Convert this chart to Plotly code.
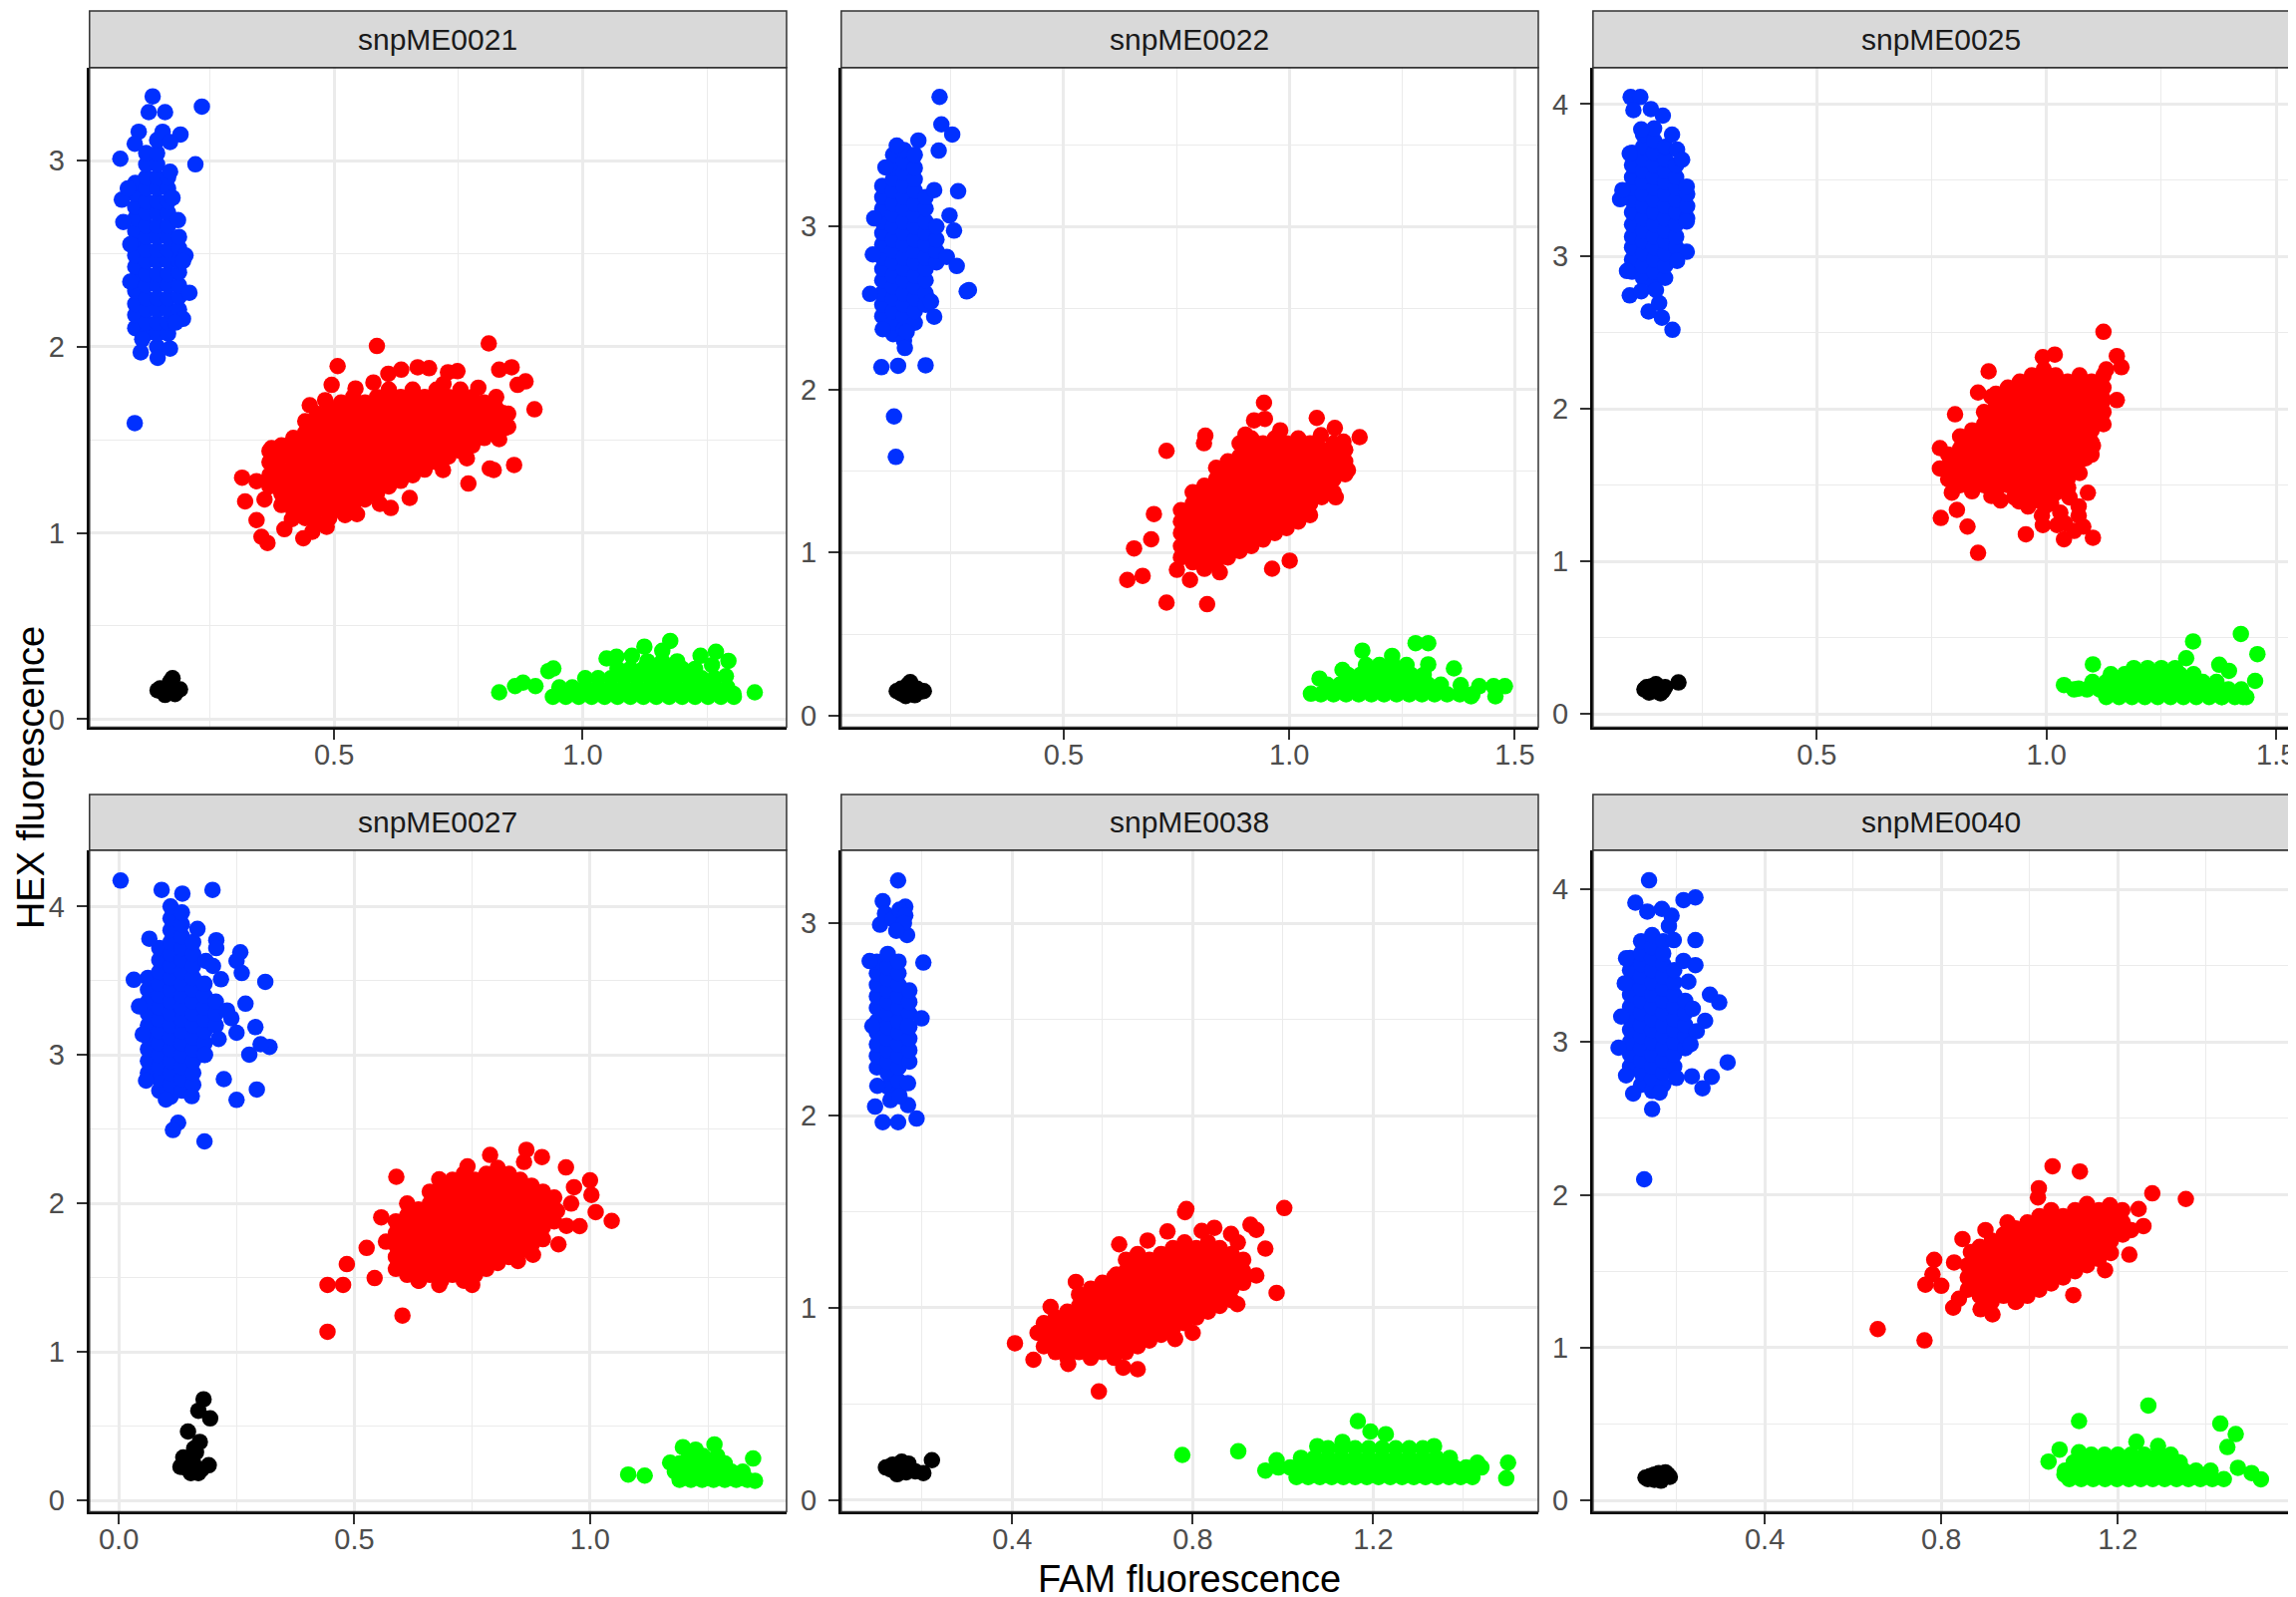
import plotly.graph_objects as go

# ---------------- data ----------------
panel_names = ["snpME0021", "snpME0022", "snpME0025", "snpME0027", "snpME0038", "snpME0040"]
x_ranges = [[0.008, 1.41], [0.007, 1.552], [0.013, 1.53], [-0.062, 1.417], [0.021, 1.566], [0.011, 1.59]]
y_ranges = [[-0.043, 3.50], [-0.071, 3.976], [-0.087, 4.24], [-0.075, 4.38], [-0.06, 3.38], [-0.073, 4.256]]
x_dticks = [0.5, 0.5, 0.5, 0.5, 0.4, 0.4]
x_title = "FAM fluorescence"
y_title = "HEX fluorescence"

# ---- snpME0021 ----
p1_blue_core = [
    (0.100, [2.10, 2.17, 2.23, 2.30, 2.36, 2.43, 2.49, 2.56, 2.62, 2.69, 2.75, 2.82, 2.88]),
    (0.122, [2.07, 2.13, 2.20, 2.26, 2.33, 2.39, 2.46, 2.52, 2.59, 2.65, 2.72, 2.78, 2.85, 2.91, 2.98, 3.04]),
    (0.144, [2.00, 2.07, 2.13, 2.20, 2.26, 2.33, 2.39, 2.46, 2.52, 2.59, 2.65, 2.72, 2.78, 2.85, 2.91, 2.98, 3.04, 3.11]),
    (0.166, [2.07, 2.13, 2.20, 2.26, 2.33, 2.39, 2.46, 2.52, 2.59, 2.65, 2.72, 2.78, 2.85, 2.91]),
    (0.188, [2.20, 2.27, 2.33, 2.40, 2.46, 2.53, 2.59]),
]
p1_blue_out = [(0.135, 3.345), (0.127, 3.26), (0.160, 3.26), (0.234, 3.29), (0.107, 3.155), (0.155, 3.155),
               (0.191, 3.14), (0.099, 3.09), (0.170, 3.10), (0.070, 3.01), (0.221, 2.98), (0.073, 2.79),
               (0.170, 2.94), (0.076, 2.67), (0.186, 2.68), (0.201, 2.49), (0.196, 2.46), (0.209, 2.29),
               (0.196, 2.15), (0.181, 2.13), (0.114, 2.04), (0.111, 1.97), (0.145, 1.94), (0.170, 1.99),
               (0.099, 1.59), (0.085, 2.85), (0.090, 2.55), (0.090, 2.35), (0.175, 2.80)]
p1_red_core = [
    (0.370, [1.25, 1.31, 1.38, 1.44]),
    (0.394, [1.15, 1.21, 1.28, 1.34, 1.41, 1.47]),
    (0.418, [1.12, 1.18, 1.25, 1.31, 1.38, 1.44, 1.51]),
    (0.442, [1.08, 1.15, 1.21, 1.28, 1.34, 1.41, 1.47, 1.54, 1.60]),
    (0.466, [1.05, 1.12, 1.18, 1.25, 1.31, 1.38, 1.44, 1.51, 1.57, 1.64]),
    (0.490, [1.08, 1.15, 1.21, 1.28, 1.34, 1.41, 1.47, 1.54, 1.60, 1.67]),
    (0.514, [1.12, 1.18, 1.25, 1.31, 1.38, 1.44, 1.51, 1.57, 1.64, 1.70]),
    (0.538, [1.15, 1.21, 1.28, 1.34, 1.41, 1.47, 1.54, 1.60, 1.67, 1.73]),
    (0.562, [1.18, 1.25, 1.31, 1.38, 1.44, 1.51, 1.57, 1.64, 1.70]),
    (0.586, [1.21, 1.28, 1.34, 1.41, 1.47, 1.54, 1.60, 1.67, 1.73]),
    (0.610, [1.25, 1.31, 1.38, 1.44, 1.51, 1.57, 1.64, 1.70, 1.77]),
    (0.634, [1.28, 1.34, 1.41, 1.47, 1.54, 1.60, 1.67, 1.73]),
    (0.658, [1.31, 1.38, 1.44, 1.51, 1.57, 1.64, 1.70, 1.77]),
    (0.682, [1.34, 1.41, 1.47, 1.54, 1.60, 1.67, 1.73]),
    (0.706, [1.38, 1.44, 1.51, 1.57, 1.64, 1.70, 1.77]),
    (0.730, [1.41, 1.47, 1.54, 1.60, 1.67, 1.73]),
    (0.754, [1.44, 1.51, 1.57, 1.64, 1.70, 1.77]),
    (0.778, [1.47, 1.54, 1.60, 1.67, 1.73]),
    (0.802, [1.51, 1.57, 1.64, 1.70]),
    (0.826, [1.54, 1.60, 1.67, 1.73]),
    (0.850, [1.57, 1.64]),
]
p1_red_out = [(0.315, 1.297), (0.321, 1.169), (0.344, 1.278), (0.344, 1.069), (0.354, 0.979), (0.366, 0.946),
              (0.374, 1.455), (0.438, 0.971), (0.456, 1.006), (0.485, 1.033), (0.451, 1.686), (0.482, 1.713),
              (0.495, 1.795), (0.507, 1.896), (0.586, 2.004), (0.543, 1.776), (0.579, 1.808), (0.609, 1.855),
              (0.635, 1.877), (0.668, 1.890), (0.691, 1.885), (0.729, 1.863), (0.748, 1.869), (0.811, 2.018),
              (0.832, 1.877), (0.857, 1.890), (0.869, 1.795), (0.885, 1.814), (0.903, 1.664), (0.839, 1.645),
              (0.844, 1.564), (0.832, 1.504), (0.862, 1.365), (0.813, 1.346), (0.821, 1.338), (0.770, 1.265),
              (0.767, 1.401), (0.719, 1.338), (0.652, 1.188), (0.614, 1.134), (0.592, 1.156), (0.546, 1.101),
              (0.522, 1.096), (0.415, 1.074), (0.360, 1.18), (0.400, 1.02), (0.790, 1.78), (0.720, 1.80)]
p1_green_rows = [
    (0.12, [0.94, 0.966, 0.992, 1.018, 1.044, 1.07, 1.096, 1.122, 1.148, 1.174, 1.20, 1.226, 1.252, 1.278, 1.304]),
    (0.17, [0.953, 0.979, 1.005, 1.031, 1.057, 1.083, 1.109, 1.135, 1.161, 1.187, 1.213, 1.239, 1.265, 1.291]),
    (0.22, [1.005, 1.031, 1.057, 1.083, 1.109, 1.135, 1.161, 1.187, 1.213, 1.239, 1.265]),
    (0.27, [1.07, 1.096, 1.122, 1.148, 1.174, 1.20, 1.226]),
    (0.31, [1.13, 1.16, 1.19]),
]
p1_green_out = [(0.832, 0.144), (0.864, 0.177), (0.880, 0.196), (0.905, 0.177), (0.931, 0.258), (0.941, 0.272),
                (1.048, 0.326), (1.068, 0.335), (1.099, 0.340), (1.124, 0.389), (1.176, 0.42), (1.160, 0.367),
                (1.191, 0.286), (1.237, 0.340), (1.268, 0.362), (1.293, 0.313), (1.288, 0.231), (1.303, 0.136),
                (1.346, 0.144), (1.250, 0.136), (1.260, 0.29)]
p1_black = [(0.145, 0.155), (0.155, 0.145), (0.165, 0.16), (0.175, 0.15), (0.185, 0.155), (0.17, 0.20),
            (0.175, 0.22), (0.16, 0.13), (0.18, 0.135), (0.15, 0.165), (0.19, 0.16), (0.165, 0.14)]

# ---- snpME0022 ----
p2_blue_core = [
    (0.098, [2.45, 2.52, 2.59, 2.67, 2.74, 2.81, 2.89, 2.96, 3.03, 3.11, 3.18, 3.25]),
    (0.122, [2.34, 2.41, 2.48, 2.56, 2.63, 2.70, 2.78, 2.85, 2.92, 3.00, 3.07, 3.14, 3.22, 3.29, 3.36, 3.44]),
    (0.146, [2.30, 2.37, 2.45, 2.52, 2.59, 2.67, 2.74, 2.81, 2.89, 2.96, 3.03, 3.11, 3.18, 3.25, 3.33, 3.40, 3.47]),
    (0.170, [2.41, 2.48, 2.56, 2.63, 2.70, 2.78, 2.85, 2.92, 3.00, 3.07, 3.14, 3.22, 3.29, 3.36, 3.44]),
    (0.194, [2.52, 2.59, 2.67, 2.74, 2.81, 2.89, 2.96, 3.03, 3.11, 3.18]),
    (0.218, [2.78, 2.85, 2.92, 3.00]),
]
p2_blue_out = [(0.225, 3.795), (0.229, 3.627), (0.253, 3.565), (0.223, 3.466), (0.178, 3.528), (0.130, 3.497),
               (0.266, 3.217), (0.213, 3.224), (0.247, 3.068), (0.257, 2.975), (0.241, 2.814), (0.263, 2.758),
               (0.285, 2.602), (0.071, 2.587), (0.077, 2.829), (0.213, 2.447), (0.206, 2.540), (0.099, 2.370),
               (0.152, 2.354), (0.148, 2.255), (0.096, 2.137), (0.133, 2.146), (0.194, 2.149), (0.124, 1.835),
               (0.128, 1.587), (0.105, 3.363), (0.290, 2.61), (0.080, 3.05)]
p2_red_core = [
    (0.760, [0.97, 1.04, 1.12, 1.19, 1.26]),
    (0.786, [0.94, 1.01, 1.08, 1.15, 1.23, 1.30, 1.37]),
    (0.812, [0.90, 0.97, 1.04, 1.12, 1.19, 1.26, 1.34, 1.41]),
    (0.838, [0.94, 1.01, 1.08, 1.15, 1.23, 1.30, 1.37, 1.45, 1.52]),
    (0.864, [0.97, 1.04, 1.12, 1.19, 1.26, 1.34, 1.41, 1.48, 1.56]),
    (0.890, [1.01, 1.08, 1.15, 1.23, 1.30, 1.37, 1.45, 1.52, 1.59, 1.67]),
    (0.916, [1.04, 1.12, 1.19, 1.26, 1.34, 1.41, 1.48, 1.56, 1.63, 1.70]),
    (0.942, [1.08, 1.15, 1.23, 1.30, 1.37, 1.45, 1.52, 1.59, 1.67]),
    (0.968, [1.12, 1.19, 1.26, 1.34, 1.41, 1.48, 1.56, 1.63, 1.70]),
    (0.994, [1.15, 1.23, 1.30, 1.37, 1.45, 1.52, 1.59, 1.67]),
    (1.020, [1.19, 1.26, 1.34, 1.41, 1.48, 1.56, 1.63, 1.70]),
    (1.046, [1.23, 1.30, 1.37, 1.45, 1.52, 1.59, 1.67]),
    (1.072, [1.34, 1.41, 1.48, 1.56, 1.63]),
    (1.098, [1.37, 1.45, 1.52, 1.59, 1.67]),
    (1.124, [1.48, 1.56, 1.63]),
]
p2_red_out = [(0.641, 0.832), (0.675, 0.857), (0.656, 1.025), (0.700, 1.236), (0.728, 1.624), (0.694, 1.081),
              (0.728, 0.693), (0.818, 0.683), (0.780, 0.832), (0.751, 0.894), (0.814, 1.717), (0.811, 1.671),
              (0.903, 1.724), (0.922, 1.811), (0.944, 1.919), (0.946, 1.820), (1.061, 1.826), (1.101, 1.764),
              (1.156, 1.708), (1.130, 1.506), (1.103, 1.339), (0.962, 0.901), (1.001, 0.950), (0.846, 0.879),
              (1.070, 1.72), (1.120, 1.68), (0.980, 1.75)]
p2_green_rows = [
    (0.13, [1.070, 1.098, 1.126, 1.154, 1.182, 1.210, 1.238, 1.266, 1.294, 1.322, 1.350, 1.378, 1.406]),
    (0.19, [1.084, 1.112, 1.140, 1.168, 1.196, 1.224, 1.252, 1.280, 1.308, 1.336]),
    (0.25, [1.130, 1.158, 1.186, 1.214, 1.242, 1.270, 1.298]),
    (0.31, [1.17, 1.20, 1.23, 1.26]),
]
p2_green_out = [(1.162, 0.398), (1.228, 0.366), (1.280, 0.444), (1.308, 0.444), (1.308, 0.314), (1.365, 0.289),
                (1.380, 0.186), (1.421, 0.180), (1.453, 0.180), (1.478, 0.180), (1.457, 0.118), (1.048, 0.134),
                (1.067, 0.227), (1.118, 0.280), (1.403, 0.118)]
p2_black = [(0.13, 0.15), (0.14, 0.135), (0.15, 0.155), (0.16, 0.14), (0.17, 0.15), (0.18, 0.145), (0.19, 0.15),
            (0.155, 0.19), (0.16, 0.205), (0.14, 0.165), (0.175, 0.165), (0.15, 0.12), (0.17, 0.125)]

# ---- snpME0025 ----
p3_blue_core = [
    (0.098, [2.90, 2.98, 3.06, 3.13, 3.21, 3.29, 3.37, 3.45, 3.52, 3.60, 3.68]),
    (0.122, [2.86, 2.94, 3.02, 3.10, 3.17, 3.25, 3.33, 3.41, 3.49, 3.56, 3.64, 3.72, 3.80]),
    (0.146, [2.82, 2.90, 2.98, 3.06, 3.13, 3.21, 3.29, 3.37, 3.45, 3.52, 3.60, 3.68, 3.76, 3.84]),
    (0.170, [2.86, 2.94, 3.02, 3.10, 3.17, 3.25, 3.33, 3.41, 3.49, 3.56, 3.64, 3.72]),
    (0.194, [3.06, 3.13, 3.21, 3.29, 3.37, 3.45, 3.52, 3.60]),
    (0.218, [3.25, 3.33, 3.41]),
]
p3_blue_out = [(0.095, 4.046), (0.116, 4.046), (0.101, 3.960), (0.139, 3.967), (0.165, 3.924), (0.118, 3.834),
               (0.093, 3.675), (0.072, 3.376), (0.077, 3.436), (0.196, 3.701), (0.207, 3.635), (0.217, 3.459),
               (0.217, 3.230), (0.217, 3.031), (0.196, 2.971), (0.093, 2.745), (0.118, 2.772), (0.134, 2.639),
               (0.157, 2.695), (0.163, 2.599), (0.186, 2.519), (0.087, 2.905), (0.185, 3.80), (0.150, 2.78)]
p3_red_core = [
    (0.786, [1.54, 1.62, 1.70]),
    (0.812, [1.50, 1.58, 1.66, 1.74, 1.82]),
    (0.838, [1.46, 1.54, 1.62, 1.70, 1.78, 1.86]),
    (0.864, [1.50, 1.58, 1.66, 1.74, 1.82, 1.90, 1.98]),
    (0.890, [1.46, 1.54, 1.62, 1.70, 1.78, 1.86, 1.94, 2.02, 2.10]),
    (0.916, [1.50, 1.58, 1.66, 1.74, 1.82, 1.90, 1.98, 2.06, 2.14]),
    (0.942, [1.46, 1.54, 1.62, 1.70, 1.78, 1.86, 1.94, 2.02, 2.10, 2.18]),
    (0.968, [1.42, 1.50, 1.58, 1.66, 1.74, 1.82, 1.90, 1.98, 2.06, 2.14, 2.22]),
    (0.994, [1.46, 1.54, 1.62, 1.70, 1.78, 1.86, 1.94, 2.02, 2.10, 2.18, 2.26]),
    (1.020, [1.50, 1.58, 1.66, 1.74, 1.82, 1.90, 1.98, 2.06, 2.14, 2.22]),
    (1.046, [1.54, 1.62, 1.70, 1.78, 1.86, 1.94, 2.02, 2.10, 2.18]),
    (1.072, [1.58, 1.66, 1.74, 1.82, 1.90, 1.98, 2.06, 2.14, 2.22]),
    (1.098, [1.70, 1.78, 1.86, 1.94, 2.02, 2.10, 2.18]),
    (1.124, [1.90, 1.98, 2.06, 2.14, 2.22]),
]
p3_red_out = [(1.124, 2.506), (1.153, 2.347), (1.163, 2.274), (1.153, 2.058), (1.101, 2.158), (1.018, 2.357),
              (0.992, 2.340), (0.874, 2.247), (0.851, 2.108), (0.801, 1.965), (0.770, 1.285), (0.805, 1.338),
              (0.828, 1.228), (0.851, 1.056), (0.955, 1.178), (0.992, 1.238), (1.023, 1.238), (1.038, 1.145),
              (1.080, 1.228), (1.101, 1.155), (1.070, 1.361), (1.047, 1.484), (1.101, 1.759), (1.085, 1.676),
              (0.997, 1.361), (0.940, 1.394), (0.794, 1.451), (0.768, 1.743), (0.768, 1.610), (0.880, 2.08),
              (1.130, 2.26), (0.990, 1.30), (1.010, 1.38), (1.030, 1.32), (1.050, 1.42), (1.040, 1.25),
              (0.960, 1.36), (1.070, 1.30), (1.060, 1.20), (1.090, 1.45), (0.930, 1.42), (0.900, 1.40),
              (0.880, 1.43), (1.020, 1.45), (0.980, 1.40)]
p3_green_rows = [
    (0.11, [1.13, 1.158, 1.186, 1.214, 1.242, 1.27, 1.298, 1.326, 1.354, 1.382, 1.41, 1.435]),
    (0.16, [1.06, 1.088, 1.116, 1.144, 1.172, 1.20, 1.228, 1.256, 1.284, 1.312, 1.34, 1.368, 1.396, 1.424]),
    (0.21, [1.10, 1.13, 1.16, 1.19, 1.22, 1.25, 1.28, 1.31, 1.34, 1.37]),
    (0.26, [1.14, 1.17, 1.20, 1.23, 1.26, 1.29, 1.32]),
    (0.30, [1.19, 1.22, 1.25, 1.28]),
]
p3_green_out = [(1.423, 0.524), (1.319, 0.475), (1.304, 0.365), (1.459, 0.392), (1.454, 0.216), (1.376, 0.322),
                (1.397, 0.282), (1.101, 0.325), (1.038, 0.189), (1.070, 0.166), (1.428, 0.110), (1.381, 0.110)]
p3_black = [(0.125, 0.16), (0.135, 0.14), (0.145, 0.15), (0.155, 0.165), (0.165, 0.15), (0.15, 0.195),
            (0.14, 0.18), (0.16, 0.135), (0.17, 0.175), (0.199, 0.206), (0.13, 0.175)]

# ---- snpME0027 ----
p4_blue_core = [
    (0.062, [2.88, 2.96, 3.04, 3.12, 3.20, 3.28, 3.36, 3.44, 3.52]),
    (0.086, [2.76, 2.84, 2.92, 3.00, 3.08, 3.16, 3.24, 3.32, 3.40, 3.48, 3.56, 3.64, 3.72]),
    (0.110, [2.72, 2.80, 2.88, 2.96, 3.04, 3.12, 3.20, 3.28, 3.36, 3.44, 3.52, 3.60, 3.68, 3.76, 3.84, 3.92, 4.00]),
    (0.134, [2.76, 2.84, 2.92, 3.00, 3.08, 3.16, 3.24, 3.32, 3.40, 3.48, 3.56, 3.64, 3.72, 3.80, 3.88, 3.96]),
    (0.158, [2.80, 2.88, 2.96, 3.04, 3.12, 3.20, 3.28, 3.36, 3.44, 3.52, 3.60, 3.68, 3.76]),
    (0.182, [3.00, 3.08, 3.16, 3.24, 3.32, 3.40, 3.48]),
    (0.206, [3.20, 3.28, 3.36]),
]
p4_blue_out = [(0.004, 4.175), (0.091, 4.112), (0.135, 4.087), (0.199, 4.112), (0.167, 3.849), (0.207, 3.773),
               (0.207, 3.720), (0.258, 3.692), (0.250, 3.633), (0.261, 3.552), (0.311, 3.493), (0.217, 3.510),
               (0.185, 3.633), (0.032, 3.507), (0.065, 3.783), (0.043, 3.328), (0.269, 3.346), (0.290, 3.188),
               (0.320, 3.055), (0.301, 3.073), (0.277, 3.003), (0.212, 3.108), (0.183, 3.003), (0.223, 2.838),
               (0.293, 2.768), (0.250, 2.698), (0.155, 2.723), (0.126, 2.544), (0.115, 2.495), (0.182, 2.418),
               (0.051, 3.139), (0.058, 2.828), (0.239, 3.248), (0.230, 3.30), (0.250, 3.15), (0.200, 3.60),
               (0.100, 2.70)]
p4_red_core = [
    (0.588, [1.56, 1.64, 1.72, 1.80, 1.88]),
    (0.612, [1.52, 1.60, 1.68, 1.76, 1.84, 1.92, 2.00]),
    (0.636, [1.48, 1.56, 1.64, 1.72, 1.80, 1.88, 1.96]),
    (0.660, [1.52, 1.60, 1.68, 1.76, 1.84, 1.92, 2.00, 2.08]),
    (0.684, [1.48, 1.56, 1.64, 1.72, 1.80, 1.88, 1.96, 2.04, 2.12]),
    (0.708, [1.52, 1.60, 1.68, 1.76, 1.84, 1.92, 2.00, 2.08, 2.16]),
    (0.732, [1.48, 1.56, 1.64, 1.72, 1.80, 1.88, 1.96, 2.04, 2.12, 2.20]),
    (0.756, [1.52, 1.60, 1.68, 1.76, 1.84, 1.92, 2.00, 2.08, 2.16]),
    (0.780, [1.56, 1.64, 1.72, 1.80, 1.88, 1.96, 2.04, 2.12, 2.20]),
    (0.804, [1.60, 1.68, 1.76, 1.84, 1.92, 2.00, 2.08, 2.16, 2.24]),
    (0.828, [1.64, 1.72, 1.80, 1.88, 1.96, 2.04, 2.12, 2.20]),
    (0.852, [1.68, 1.76, 1.84, 1.92, 2.00, 2.08, 2.16]),
    (0.876, [1.72, 1.80, 1.88, 1.96, 2.04, 2.12]),
    (0.900, [1.76, 1.84, 1.92, 2.00, 2.08]),
    (0.924, [1.88, 1.96, 2.04]),
]
p4_red_out = [(0.443, 1.452), (0.476, 1.452), (0.443, 1.137), (0.484, 1.592), (0.526, 1.701), (0.543, 1.498),
              (0.557, 1.907), (0.567, 1.743), (0.589, 2.180), (0.602, 1.246), (0.680, 2.163), (0.788, 2.327),
              (0.865, 2.362), (0.898, 2.313), (0.949, 2.243), (1.000, 2.156), (0.966, 2.110), (1.003, 2.058),
              (1.012, 1.942), (1.046, 1.883), (0.978, 1.848), (0.933, 1.725), (0.879, 1.655), (0.847, 1.613),
              (0.750, 1.452), (0.680, 1.452), (0.637, 1.480), (0.930, 1.95), (0.960, 2.00), (0.950, 1.85),
              (0.860, 2.28), (0.740, 2.25)]
p4_green_rows = [
    (0.14, [1.19, 1.214, 1.238, 1.262, 1.286, 1.31, 1.334]),
    (0.195, [1.18, 1.204, 1.228, 1.252, 1.276, 1.30, 1.324]),
    (0.25, [1.19, 1.214, 1.238, 1.262, 1.286]),
    (0.30, [1.21, 1.24, 1.27]),
]
p4_green_out = [(1.081, 0.175), (1.116, 0.168), (1.197, 0.360), (1.224, 0.343), (1.264, 0.378), (1.346, 0.283),
                (1.350, 0.133), (1.315, 0.168), (1.170, 0.255)]
p4_black = [(0.180, 0.682), (0.169, 0.605), (0.194, 0.553), (0.147, 0.465), (0.172, 0.395), (0.164, 0.325),
            (0.137, 0.290), (0.131, 0.227), (0.191, 0.238), (0.153, 0.185), (0.169, 0.185), (0.142, 0.220),
            (0.158, 0.255), (0.176, 0.21), (0.160, 0.35)]

# ---- snpME0038 ----
p5_blue_core = [
    (0.100, [2.25, 2.31, 2.37, 2.43, 2.49, 2.56, 2.62, 2.68, 2.74, 2.80]),
    (0.124, [2.15, 2.22, 2.28, 2.34, 2.40, 2.46, 2.53, 2.59, 2.65, 2.71, 2.77, 2.84]),
    (0.148, [2.12, 2.18, 2.25, 2.31, 2.37, 2.43, 2.49, 2.56, 2.62, 2.68, 2.74, 2.80]),
    (0.172, [2.28, 2.34, 2.40, 2.46, 2.53, 2.59, 2.65]),
]
p5_blue_out = [(0.147, 3.222), (0.113, 3.114), (0.163, 3.086), (0.107, 2.992), (0.167, 2.938), (0.203, 2.795),
               (0.084, 2.803), (0.199, 2.505), (0.101, 2.154), (0.096, 2.046), (0.113, 1.965), (0.147, 1.965),
               (0.188, 1.984), (0.169, 2.168), (0.169, 2.054), (0.090, 2.465), (0.169, 2.465), (0.118, 3.05),
               (0.135, 3.02), (0.150, 3.07), (0.163, 3.04), (0.160, 3.00), (0.143, 2.96), (0.130, 2.08),
               (0.150, 2.10)]
p5_red_core = [
    (0.470, [0.80, 0.86, 0.92]),
    (0.496, [0.77, 0.83, 0.89, 0.95]),
    (0.522, [0.74, 0.80, 0.86, 0.92, 0.98]),
    (0.548, [0.77, 0.83, 0.89, 0.95, 1.01, 1.07]),
    (0.574, [0.74, 0.80, 0.86, 0.92, 0.98, 1.04, 1.10]),
    (0.600, [0.77, 0.83, 0.89, 0.95, 1.01, 1.07, 1.13]),
    (0.626, [0.74, 0.80, 0.86, 0.92, 0.98, 1.04, 1.10, 1.16]),
    (0.652, [0.77, 0.83, 0.89, 0.95, 1.01, 1.07, 1.13, 1.19, 1.25]),
    (0.678, [0.80, 0.86, 0.92, 0.98, 1.04, 1.10, 1.16, 1.22, 1.28]),
    (0.704, [0.83, 0.89, 0.95, 1.01, 1.07, 1.13, 1.19, 1.25]),
    (0.730, [0.86, 0.92, 0.98, 1.04, 1.10, 1.16, 1.22, 1.28]),
    (0.756, [0.89, 0.95, 1.01, 1.07, 1.13, 1.19, 1.25, 1.31]),
    (0.782, [0.92, 0.98, 1.04, 1.10, 1.16, 1.22, 1.28, 1.34]),
    (0.808, [0.95, 1.01, 1.07, 1.13, 1.19, 1.25, 1.31]),
    (0.834, [0.98, 1.04, 1.10, 1.16, 1.22, 1.28, 1.34]),
    (0.860, [1.01, 1.07, 1.13, 1.19, 1.25, 1.31]),
    (0.886, [1.04, 1.10, 1.16, 1.22, 1.28]),
    (0.912, [1.13, 1.19, 1.25]),
]
p5_red_out = [(0.406, 0.816), (0.447, 0.730), (0.456, 0.870), (0.485, 1.005), (0.541, 1.135), (0.524, 0.708),
              (0.592, 0.565), (0.646, 0.689), (0.678, 0.681), (0.637, 1.330), (0.631, 1.173), (0.744, 1.397),
              (0.783, 1.497), (0.786, 1.514), (0.848, 1.416), (0.885, 1.384), (0.928, 1.432), (0.941, 1.405),
              (1.003, 1.519), (0.961, 1.308), (0.941, 1.168), (0.986, 1.078), (0.899, 1.019), (0.800, 0.870),
              (0.761, 0.838), (0.900, 1.34), (0.820, 1.40), (0.700, 1.35)]
p5_green_rows = [
    (0.12, [1.03, 1.056, 1.082, 1.108, 1.134, 1.16, 1.186, 1.212, 1.238, 1.264, 1.29, 1.316, 1.342, 1.368, 1.394, 1.42]),
    (0.17, [0.99, 1.016, 1.042, 1.068, 1.094, 1.12, 1.146, 1.172, 1.198, 1.224, 1.25, 1.276, 1.302, 1.328, 1.354, 1.38, 1.406, 1.44]),
    (0.22, [1.04, 1.07, 1.10, 1.13, 1.16, 1.19, 1.22, 1.25, 1.28, 1.31, 1.34, 1.37]),
    (0.27, [1.10, 1.13, 1.16, 1.19, 1.22, 1.25, 1.28, 1.31]),
]
p5_green_out = [(0.777, 0.235), (0.901, 0.254), (1.166, 0.411), (1.194, 0.357), (1.228, 0.343), (1.335, 0.281),
                (1.499, 0.195), (1.495, 0.114), (1.431, 0.195), (0.961, 0.154), (0.986, 0.208), (1.076, 0.281),
                (1.132, 0.303)]
p5_black = [(0.12, 0.17), (0.13, 0.16), (0.14, 0.15), (0.15, 0.165), (0.16, 0.18), (0.165, 0.145), (0.175, 0.16),
            (0.185, 0.15), (0.155, 0.20), (0.145, 0.135), (0.203, 0.141), (0.222, 0.208), (0.135, 0.185),
            (0.17, 0.19)]

# ---- snpME0040 ----
p6_blue_core = [
    (0.095, [2.84, 2.92, 3.00, 3.08, 3.15, 3.23, 3.31, 3.39, 3.47, 3.55]),
    (0.120, [2.72, 2.80, 2.88, 2.96, 3.04, 3.11, 3.19, 3.27, 3.35, 3.43, 3.51, 3.58, 3.66]),
    (0.145, [2.68, 2.76, 2.84, 2.92, 3.00, 3.08, 3.15, 3.23, 3.31, 3.39, 3.47, 3.55, 3.62, 3.70]),
    (0.170, [2.72, 2.80, 2.88, 2.96, 3.04, 3.11, 3.19, 3.27, 3.35, 3.43, 3.51, 3.58, 3.66]),
    (0.195, [2.84, 2.92, 3.00, 3.08, 3.15, 3.23, 3.31, 3.39, 3.47]),
    (0.220, [2.96, 3.04, 3.11, 3.19, 3.27]),
]
p6_blue_out = [(0.138, 4.058), (0.107, 3.912), (0.134, 3.854), (0.167, 3.871), (0.189, 3.827), (0.216, 3.929),
               (0.243, 3.946), (0.183, 3.759), (0.243, 3.667), (0.194, 3.667), (0.086, 3.548), (0.216, 3.531),
               (0.243, 3.503), (0.083, 3.384), (0.227, 3.395), (0.276, 3.310), (0.297, 3.259), (0.265, 3.139),
               (0.237, 3.218), (0.246, 3.071), (0.075, 3.167), (0.069, 2.963), (0.232, 2.986), (0.316, 2.867),
               (0.200, 2.765), (0.235, 2.776), (0.259, 2.697), (0.280, 2.772), (0.086, 2.782), (0.102, 2.663),
               (0.162, 2.670), (0.145, 2.561), (0.127, 2.102)]
p6_red_core = [
    (0.860, [1.38, 1.46, 1.54]),
    (0.887, [1.34, 1.42, 1.50, 1.58, 1.66]),
    (0.914, [1.30, 1.38, 1.46, 1.54, 1.62, 1.70]),
    (0.941, [1.34, 1.42, 1.50, 1.58, 1.66, 1.74]),
    (0.968, [1.30, 1.38, 1.46, 1.54, 1.62, 1.70, 1.78]),
    (0.995, [1.34, 1.42, 1.50, 1.58, 1.66, 1.74, 1.82]),
    (1.022, [1.38, 1.46, 1.54, 1.62, 1.70, 1.78, 1.86]),
    (1.049, [1.42, 1.50, 1.58, 1.66, 1.74, 1.82, 1.90]),
    (1.076, [1.46, 1.54, 1.62, 1.70, 1.78, 1.86]),
    (1.103, [1.50, 1.58, 1.66, 1.74, 1.82, 1.90]),
    (1.130, [1.54, 1.62, 1.70, 1.78, 1.86, 1.94]),
    (1.157, [1.58, 1.66, 1.74, 1.82, 1.90]),
    (1.184, [1.62, 1.70, 1.78, 1.86]),
    (1.211, [1.74, 1.82]),
]
p6_red_out = [(0.656, 1.122), (0.762, 1.048), (0.764, 1.412), (0.784, 1.575), (0.780, 1.480), (0.800, 1.405),
              (0.829, 1.558), (0.848, 1.711), (0.867, 1.626), (0.827, 1.262), (0.840, 1.320), (0.916, 1.218),
              (0.889, 1.252), (1.052, 2.187), (1.114, 2.153), (1.021, 2.044), (1.019, 1.983), (1.278, 2.010),
              (1.354, 1.973), (1.247, 1.908), (1.258, 1.796), (1.226, 1.609), (1.182, 1.932), (1.171, 1.507),
              (1.099, 1.344), (0.970, 1.303), (1.230, 1.77), (1.210, 1.90), (0.950, 1.82), (0.900, 1.77)]
p6_green_rows = [
    (0.14, [1.09, 1.117, 1.144, 1.171, 1.198, 1.225, 1.252, 1.279, 1.306, 1.333, 1.36, 1.387, 1.414, 1.44]),
    (0.195, [1.08, 1.107, 1.134, 1.161, 1.188, 1.215, 1.242, 1.269, 1.296, 1.323, 1.35, 1.377, 1.41]),
    (0.25, [1.10, 1.13, 1.16, 1.19, 1.22, 1.25, 1.28, 1.31, 1.34]),
    (0.30, [1.14, 1.17, 1.20, 1.23, 1.26, 1.29, 1.32]),
]
p6_green_out = [(1.269, 0.622), (1.112, 0.520), (1.432, 0.503), (1.467, 0.435), (1.448, 0.350), (1.291, 0.357),
                (1.242, 0.384), (1.043, 0.255), (1.068, 0.333), (1.079, 0.170), (1.524, 0.139), (1.503, 0.180),
                (1.472, 0.214), (1.112, 0.316)]
p6_black = [(0.13, 0.15), (0.14, 0.16), (0.15, 0.17), (0.16, 0.18), (0.17, 0.165), (0.18, 0.17), (0.185, 0.155),
            (0.15, 0.135), (0.165, 0.13), (0.145, 0.145), (0.175, 0.185), (0.135, 0.14)]


def from_cols(cols):
    return [(x, y) for x, ys in cols for y in ys]


def from_rows(rows):
    return [(x, y) for y, xs in rows for x in xs]


panels_data = [
    (from_cols(p1_blue_core) + p1_blue_out, from_cols(p1_red_core) + p1_red_out,
     from_rows(p1_green_rows) + p1_green_out, p1_black),
    (from_cols(p2_blue_core) + p2_blue_out, from_cols(p2_red_core) + p2_red_out,
     from_rows(p2_green_rows) + p2_green_out, p2_black),
    (from_cols(p3_blue_core) + p3_blue_out, from_cols(p3_red_core) + p3_red_out,
     from_rows(p3_green_rows) + p3_green_out, p3_black),
    (from_cols(p4_blue_core) + p4_blue_out, from_cols(p4_red_core) + p4_red_out,
     from_rows(p4_green_rows) + p4_green_out, p4_black),
    (from_cols(p5_blue_core) + p5_blue_out, from_cols(p5_red_core) + p5_red_out,
     from_rows(p5_green_rows) + p5_green_out, p5_black),
    (from_cols(p6_blue_core) + p6_blue_out, from_cols(p6_red_core) + p6_red_out,
     from_rows(p6_green_rows) + p6_green_out, p6_black),
]
cluster_colors = ["#0030FF", "#FF0000", "#00FF00", "#000000"]

# ---------------- layout geometry ----------------
W, H = 2303, 1602
col_px = [(82, 783), (838, 1539), (1594, 2295)]
row_px = [(60, 725), (849, 1516)]
strip_px = [(3, 60), (793, 849)]
FONT = "Liberation Sans, Arial, Helvetica, sans-serif"

fig = go.Figure()
shapes = []
annotations = []

for i in range(6):
    r, c = divmod(i, 3)
    ax = "" if i == 0 else str(i + 1)
    xl, xr = col_px[c]
    yt, yb = row_px[r]
    for pts, col in zip(panels_data[i], cluster_colors):
        fig.add_trace(go.Scatter(
            x=[p[0] for p in pts], y=[p[1] for p in pts], mode="markers",
            marker=dict(size=16.5, color=col, line=dict(width=0)),
            xaxis="x" + ax, yaxis="y" + ax, showlegend=False, hoverinfo="skip"))
    common = dict(
        showline=True, linecolor="black", linewidth=3, mirror=False,
        ticks="outside", ticklen=10, tickwidth=2.2, tickcolor="#333333",
        showgrid=True, gridcolor="#EBEBEB", gridwidth=2.6, zeroline=False,
        tickfont=dict(family=FONT, size=29, color="#4D4D4D"),
        fixedrange=True,
    )
    fig.layout["xaxis" + ax] = dict(
        common, domain=[xl / W, xr / W], range=x_ranges[i], anchor="y" + ax,
        tick0=0, dtick=x_dticks[i], tickformat=".1f", ticklabelstandoff=-10,
        minor=dict(dtick=x_dticks[i] / 2, showgrid=True, gridcolor="#EBEBEB", gridwidth=1.3, ticks=""))
    fig.layout["yaxis" + ax] = dict(
        common, domain=[1 - yb / H, 1 - yt / H], range=y_ranges[i], anchor="x" + ax,
        tick0=0, dtick=1, ticklabelstandoff=6,
        minor=dict(dtick=0.5, showgrid=True, gridcolor="#EBEBEB", gridwidth=1.3, ticks=""))
    # panel border
    shapes.append(dict(type="rect", xref="paper", yref="paper",
                       x0=xl / W, x1=xr / W, y0=1 - yb / H, y1=1 - yt / H,
                       line=dict(color="#333333", width=1.5), fillcolor="rgba(0,0,0,0)", layer="above"))
    # strip
    st, sb = strip_px[r]
    shapes.append(dict(type="rect", xref="paper", yref="paper",
                       x0=xl / W, x1=xr / W, y0=1 - sb / H, y1=1 - st / H,
                       line=dict(color="#333333", width=1.5), fillcolor="#D9D9D9", layer="above"))
    annotations.append(dict(text=panel_names[i], xref="paper", yref="paper",
                            x=(xl + xr) / 2 / W, y=1 - (st + sb) / 2 / H, xanchor="center", yanchor="middle",
                            showarrow=False, font=dict(family=FONT, size=30, color="#1A1A1A")))

annotations.append(dict(text=x_title, xref="paper", yref="paper", x=(82 + 2295) / 2 / W, y=0,
                        xanchor="center", yanchor="bottom", yshift=-5, showarrow=False,
                        font=dict(family=FONT, size=38, color="black")))
annotations.append(dict(text=y_title, xref="paper", yref="paper", x=0, y=1 - 776 / H,
                        xanchor="left", yanchor="middle", textangle=-90, showarrow=False,
                        font=dict(family=FONT, size=38, color="black")))

fig.update_layout(width=W, height=H, margin=dict(l=0, r=0, t=0, b=0),
                  plot_bgcolor="white", paper_bgcolor="white", showlegend=False,
                  shapes=shapes, annotations=annotations)

fig.write_html("out.html")
